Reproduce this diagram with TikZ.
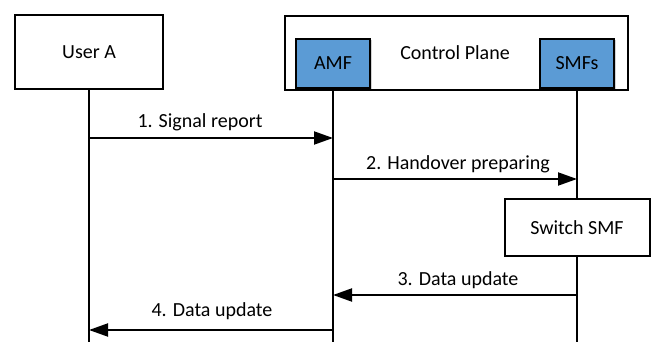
\documentclass[tikz,border=0pt]{standalone}
\usepackage{fontspec}
\setmainfont{Carlito}
\usetikzlibrary{arrows.meta,shadows}
\definecolor{nfblue}{HTML}{5B9BD5}
\begin{document}
\begin{tikzpicture}[x=1pt,y=-1pt,
  box/.style={draw=black,line width=2pt,fill=white,inner sep=0pt},
  nf/.style={draw=black,line width=2pt,fill=nfblue,inner sep=0pt,
    drop shadow={shadow xshift=1.5pt,shadow yshift=-1.5pt,opacity=0.35}},
  life/.style={line width=2pt},
  msg/.style={line width=2pt,-{Triangle[length=19pt,width=13pt]}},
  lbl/.style={font=\fontsize{20}{24}\selectfont,inner sep=0pt},
  every node/.style={font=\fontsize{20}{24}\selectfont}]
\useasboundingbox (0,0) rectangle (656,342);
% top boxes
\node[box,minimum width=148pt,minimum height=74pt] (ua) at (89,52) {User A};
\node[box,minimum width=343pt,minimum height=74pt,anchor=north west] (cp) at (284,15) {};
\node[lbl] (cpl) at (455,53) {Control Plane};
\node[nf,minimum width=74pt,minimum height=49pt,anchor=south] (amf) at (333,89) {AMF};
\node[nf,minimum width=74pt,minimum height=49pt,anchor=south] (smf) at (577,89) {SMFs};
% bottom coordinates
\coordinate (uab) at (89,342);
\coordinate (amfb) at (333,342);
\coordinate (smfb) at (577,342);
% switch box
\node[box,minimum width=145pt,minimum height=57pt] (sw) at (577,227.5) {Switch SMF};
% lifelines
\draw[life] (ua.south) -- (uab);
\draw[life] (amf.south) -- (amfb);
\draw[life] (smf.south) -- (sw.north);
\draw[life] (sw.south) -- (smfb);
% messages
\coordinate (m1s) at (89,138); \coordinate (m1e) at (333,138);
\coordinate (m2s) at (333,179); \coordinate (m2e) at (577,179);
\coordinate (m3s) at (577,295); \coordinate (m3e) at (333,295);
\coordinate (m4s) at (333,330); \coordinate (m4e) at (89,330);
\draw[msg] (m1s) -- (m1e);
\draw[msg] (m2s) -- (m2e);
\draw[msg] (m3s) -- (m3e);
\draw[msg] (m4s) -- (m4e);
\node[lbl] (l1) at (200,122) {1. Signal report};
\node[lbl] (l2) at (458,164) {2. Handover preparing};
\node[lbl] (l3) at (458,280) {3. Data update};
\node[lbl] (l4) at (212,311) {4. Data update};
\end{tikzpicture}
\end{document}
